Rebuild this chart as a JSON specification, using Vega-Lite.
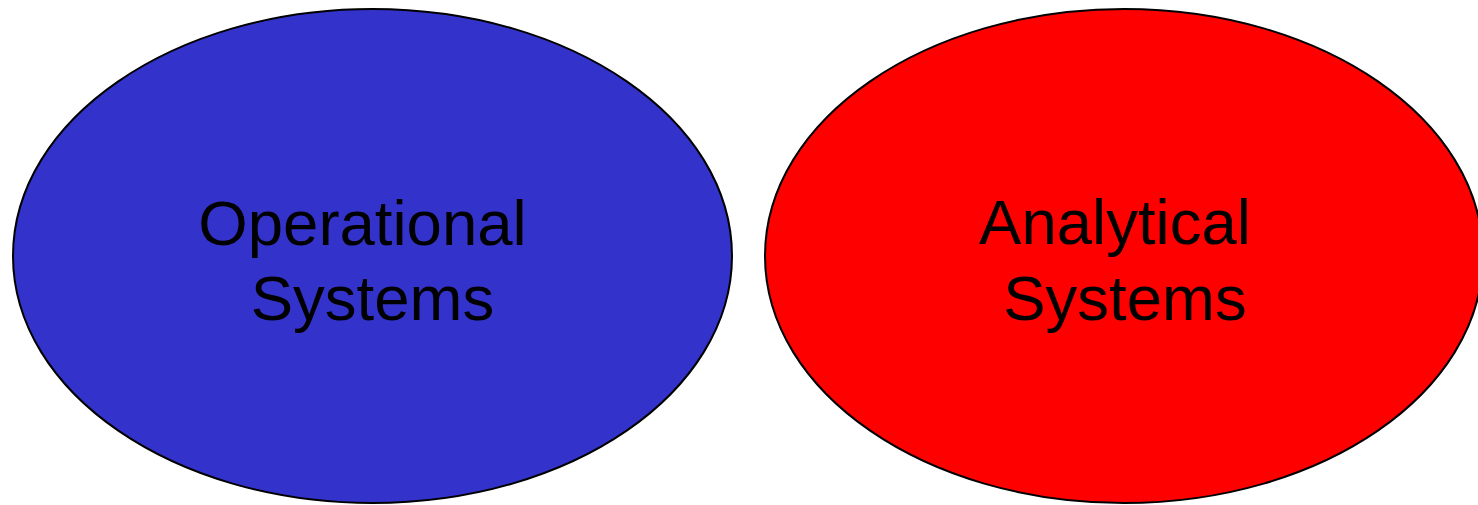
{
  "$schema": "https://vega.github.io/schema/vega-lite/v6.json",
  "width": 1478,
  "height": 505,
  "autosize": {"type": "none"},
  "padding": 0,
  "background": "white",
  "config": {"view": {"stroke": null}},
  "data": {
    "values": [
      {"kind": "system", "name": "Operational", "cx": 372.5, "cy": 256},
      {"kind": "system", "name": "Analytical", "cx": 1124, "cy": 256},
      {"kind": "label", "name": "Operational", "text": "Operational", "cx": 362.5, "cy": 244.5},
      {"kind": "label", "name": "Operational", "text": "Systems", "cx": 372.5, "cy": 320},
      {"kind": "label", "name": "Analytical", "text": "Analytical", "cx": 1115, "cy": 244},
      {"kind": "label", "name": "Analytical", "text": "Systems", "cx": 1125, "cy": 320}
    ]
  },
  "encoding": {
    "x": {"field": "cx", "type": "quantitative", "scale": {"domain": [0, 1478], "nice": false, "zero": false}, "axis": null},
    "y": {"field": "cy", "type": "quantitative", "scale": {"domain": [0, 505], "nice": false, "zero": false, "reverse": true}, "axis": null}
  },
  "layer": [
    {
      "transform": [{"filter": "datum.kind === 'system' && datum.name === 'Operational'"}],
      "mark": {
        "type": "point",
        "shape": "M -359.5 0 A 359.5 247 0 1 1 359.5 0 A 359.5 247 0 1 1 -359.5 0 Z",
        "size": 4,
        "filled": true,
        "fill": "#3333CC",
        "stroke": "black",
        "strokeWidth": 2,
        "opacity": 1,
        "clip": false
      }
    },
    {
      "transform": [{"filter": "datum.kind === 'system' && datum.name === 'Analytical'"}],
      "mark": {
        "type": "point",
        "shape": "M -359 0 A 359 247 0 1 1 359 0 A 359 247 0 1 1 -359 0 Z",
        "size": 4,
        "filled": true,
        "fill": "#FF0000",
        "stroke": "black",
        "strokeWidth": 2,
        "opacity": 1,
        "clip": false
      }
    },
    {
      "transform": [{"filter": "datum.kind === 'label'"}],
      "mark": {
        "type": "text",
        "font": "Liberation Sans",
        "fontSize": 63.5,
        "color": "black",
        "align": "center",
        "baseline": "alphabetic"
      },
      "encoding": {"text": {"field": "text"}}
    }
  ]
}
